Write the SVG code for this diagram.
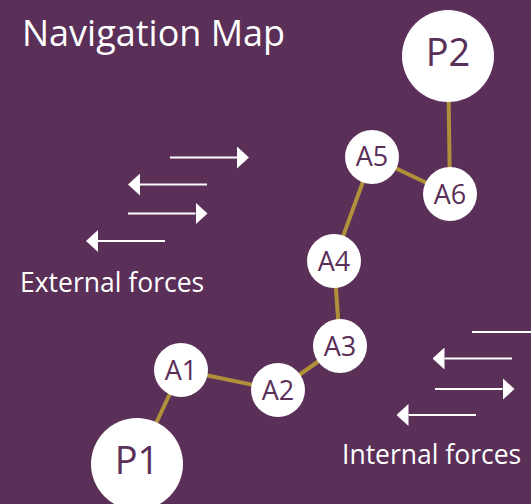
<svg xmlns="http://www.w3.org/2000/svg" width="531" height="504" viewBox="0 0 531 504">
<style>
.bg{fill:#5a2f58}
.node circle{fill:#ffffff}
.node text{fill:#5a2f58;font-family:"Open Sans","Noto Sans",sans-serif;text-anchor:middle}
.a text{font-size:27px}
.p text{font-size:38px}
.edge{stroke:#b0903a;stroke-width:4;fill:none}
.force{stroke:#ffffff;stroke-width:2.2;fill:none}
.label{fill:#ffffff;font-family:"Open Sans","Noto Sans",sans-serif}
</style>
<defs>
<marker id="head" viewBox="0 0 12 22" refX="0" refY="11" markerWidth="12" markerHeight="22" markerUnits="userSpaceOnUse" orient="auto">
<path d="M0,0 L12,11 L0,22 Z" fill="#ffffff"/>
</marker>
</defs>
<rect class="bg" x="0" y="0" width="531" height="504"/>
<text class="label" x="22" y="46" font-size="36">Navigation Map</text>
<g id="connectors">
<line class="edge" x1="137" y1="464" x2="181" y2="370"/>
<line class="edge" x1="181" y1="370" x2="278" y2="390"/>
<line class="edge" x1="278" y1="390" x2="340" y2="346"/>
<line class="edge" x1="340" y1="346" x2="334" y2="261"/>
<line class="edge" x1="334" y1="261" x2="372" y2="157"/>
<line class="edge" x1="372" y1="157" x2="450" y2="194"/>
<line class="edge" x1="450" y1="194" x2="448" y2="56"/>
</g>
<g id="external-forces">
<line class="force" x1="170" y1="157.5" x2="237" y2="157.5" marker-end="url(#head)"/>
<line class="force" x1="207" y1="184.5" x2="140" y2="184.5" marker-end="url(#head)"/>
<line class="force" x1="128" y1="213.5" x2="195.5" y2="213.5" marker-end="url(#head)"/>
<line class="force" x1="165" y1="241" x2="98" y2="241" marker-end="url(#head)"/>
<text class="label" x="20" y="292" font-size="26.5">External forces</text>
</g>
<g id="internal-forces">
<line class="force" x1="472" y1="332" x2="545" y2="332" marker-end="url(#head)"/>
<line class="force" x1="512" y1="358.5" x2="444.5" y2="358.5" marker-end="url(#head)"/>
<line class="force" x1="435" y1="389" x2="502.5" y2="389" marker-end="url(#head)"/>
<line class="force" x1="476" y1="415" x2="408.5" y2="415" marker-end="url(#head)"/>
<text class="label" x="342" y="464" font-size="26.5">Internal forces</text>
</g>
<g id="P1" class="node p"><circle cx="137" cy="464" r="46"/><text x="137" y="473.5">P1</text></g>
<g id="A1" class="node a"><circle cx="181" cy="370" r="27"/><text x="181" y="379.5">A1</text></g>
<g id="A2" class="node a"><circle cx="278" cy="390" r="27"/><text x="278" y="399.5">A2</text></g>
<g id="A3" class="node a"><circle cx="340" cy="346" r="27"/><text x="340" y="355.5">A3</text></g>
<g id="A4" class="node a"><circle cx="334" cy="261" r="27"/><text x="334" y="270.5">A4</text></g>
<g id="A5" class="node a"><circle cx="372" cy="157" r="27"/><text x="372" y="166">A5</text></g>
<g id="A6" class="node a"><circle cx="450" cy="194" r="27"/><text x="450" y="203.5">A6</text></g>
<g id="P2" class="node p"><circle cx="448" cy="56" r="46"/><text x="448" y="65.5">P2</text></g>
</svg>
